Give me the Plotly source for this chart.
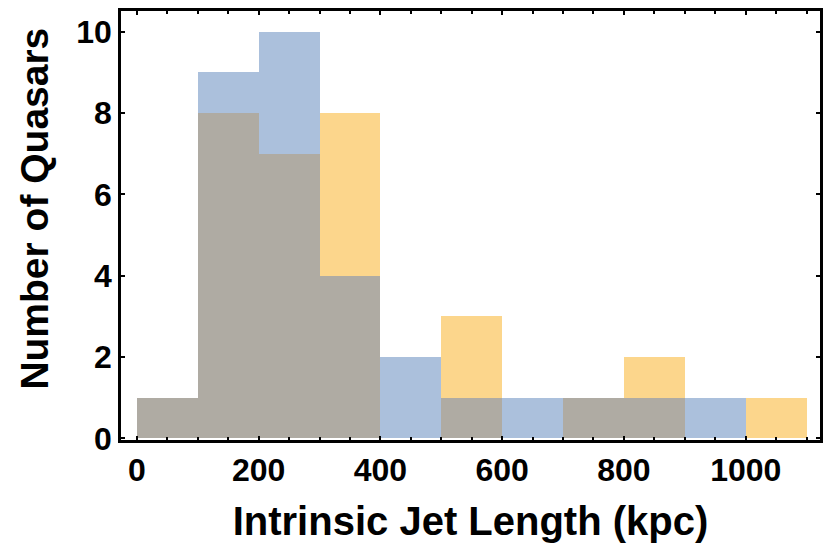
import plotly.graph_objects as go

bin_left = [0, 100, 200, 300, 400, 500, 600, 700, 800, 900, 1000]
blue_counts = [1, 9, 10, 4, 2, 1, 1, 1, 1, 1, 0]
orange_counts = [1, 8, 7, 8, 0, 3, 0, 1, 2, 0, 1]
bin_width = 100

x_ticks = [0, 200, 400, 600, 800, 1000]
y_ticks = [0, 2, 4, 6, 8, 10]

blue_col = "#abc0dc"
orange_col = "#fcd68c"
grey_col = "#afaba3"

centers = [b + bin_width / 2 for b in bin_left]
overlap = [min(a, b) for a, b in zip(blue_counts, orange_counts)]

fig = go.Figure()
fig.add_trace(go.Bar(x=centers, y=blue_counts, width=bin_width,
                     marker=dict(color=blue_col, line=dict(width=0))))
fig.add_trace(go.Bar(x=centers, y=orange_counts, width=bin_width,
                     marker=dict(color=orange_col, line=dict(width=0))))
fig.add_trace(go.Bar(x=centers, y=overlap, width=bin_width,
                     marker=dict(color=grey_col, line=dict(width=0))))

font_family = "Liberation Sans, Arial, sans-serif"
fig.update_layout(
    width=833, height=550,
    barmode="overlay", bargap=0,
    showlegend=False,
    plot_bgcolor="white", paper_bgcolor="white",
    margin=dict(l=121, r=13, t=8, b=110),
    font=dict(family=font_family, color="black"),
)
fig.update_xaxes(
    range=[-26, 1122],
    tickvals=x_ticks, ticktext=[f"<b>{v}</b>" for v in x_ticks],
    tickfont=dict(size=32, family=font_family, color="black"),
    ticks="inside", ticklen=4, tickwidth=2, tickcolor="black",
    minor=dict(dtick=50, tick0=0, ticks="inside", ticklen=3, tickwidth=2, tickcolor="black"),
    showline=True, linewidth=2.5, linecolor="black", mirror="ticks",
    showgrid=False, zeroline=False,
    title=dict(text="<b>Intrinsic Jet Length (kpc)</b>", font=dict(size=40, family=font_family, color="black"), standoff=20),
)
fig.update_yaxes(
    range=[-0.04, 10.51],
    tickvals=y_ticks, ticktext=[f"<b>{v}</b>" for v in y_ticks],
    tickfont=dict(size=32, family=font_family, color="black"),
    ticks="inside", ticklen=4, tickwidth=2, tickcolor="black",
    showline=True, linewidth=2.5, linecolor="black", mirror="ticks",
    showgrid=False, zeroline=False,
)
fig.add_annotation(
    text="<b>Number of Quasars</b>", textangle=-90,
    xref="paper", yref="paper", x=-86 / 699, y=(440 - 207) / 432,
    xanchor="center", yanchor="middle", showarrow=False,
    font=dict(size=39, family=font_family, color="black"),
)

fig.write_html("out.html")
